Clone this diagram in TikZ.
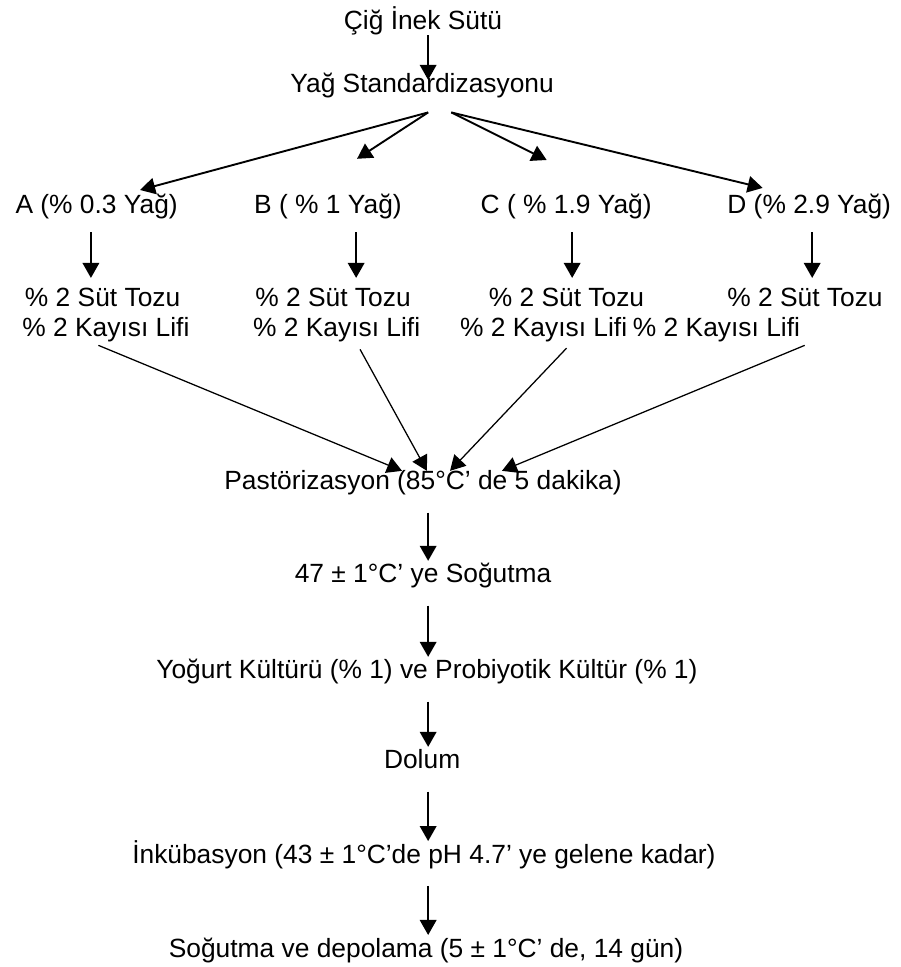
\documentclass[tikz,border=0pt]{standalone}
\usepackage{fontspec}
\setmainfont{Liberation Sans}
\usetikzlibrary{arrows.meta, calc}

\begin{document}
\begin{tikzpicture}[
    >={Triangle[length=0.5cm, width=0.55cm]},
    adim/.style={anchor=base, inner sep=0pt, text height=0.63cm, text depth=0.2cm, font=\fontsize{25}{29}\selectfont},
    akis/.style={->, line width=1.8pt, shorten <=0.55cm, shorten >=0.1cm},
    kol/.style={->, line width=1.8pt, shorten <=0.43cm, shorten >=0.3cm},
    dal/.style={->, line width=1.8pt},
    topla/.style={->, line width=1.2pt, shorten <=0.27cm},
]
\useasboundingbox (0,0) rectangle (30,-32.23);

% Arrow columns
\coordinate (mid) at (14.27,0);
\coordinate (kA) at (3.03,0);
\coordinate (kB) at (11.87,0);
\coordinate (kC) at (19.07,0);
\coordinate (kD) at (27.07,0);

% Raw milk
\node[adim] (cig) at (14.1,-0.97) {Çiğ İnek Sütü};
\node[adim] (yag) at (14.07,-3.07) {Yağ Standardizasyonu};

% Fat levels
\node[adim] (A) at (3.22,-7.1) {A (\% 0.3 Yağ)};
\node[adim] (B) at (10.93,-7.1) {B ( \% 1 Yağ)};
\node[adim] (C) at (18.87,-7.1) {C ( \% 1.9 Yağ)};
\node[adim] (D) at (26.97,-7.1) {D (\% 2.9 Yağ)};

% Additions
\node[adim] (tozA) at (3.42,-10.2) {\% 2 Süt Tozu};
\node[adim] (lifA) at (3.53,-11.2) {\% 2 Kayısı Lifi};
\node[adim] (tozB) at (11.1,-10.2) {\% 2 Süt Tozu};
\node[adim] (lifB) at (11.22,-11.2) {\% 2 Kayısı Lifi};
\node[adim] (tozC) at (18.88,-10.2) {\% 2 Süt Tozu};
\node[adim] (lifC) at (18.12,-11.2) {\% 2 Kayısı Lifi};
\node[adim] (tozD) at (26.83,-10.2) {\% 2 Süt Tozu};
\node[adim] (lifD) at (23.88,-11.2) {\% 2 Kayısı Lifi};

% Processing
\node[adim] (past) at (14.1,-16.33) {Pastörizasyon (85°C’ de 5 dakika)};
\node[adim] (sogut) at (14.1,-19.43) {47 ± 1°C’ ye Soğutma};
\node[adim] (kultur) at (14.23,-22.63) {Yoğurt Kültürü (\% 1) ve Probiyotik Kültür (\% 1)};
\node[adim] (dolum) at (14.07,-25.63) {Dolum};
\node[adim] (inkub) at (14.13,-28.77) {İnkübasyon (43 ± 1°C’de pH 4.7’ ye gelene kadar)};
\node[adim] (depo) at (14.2,-31.9) {Soğutma ve depolama (5 ± 1°C’ de, 14 gün)};

% Top arrows
\draw[akis, shorten <=0pt, shorten >=-0.23cm] (cig.south -| mid) -- (yag.north -| mid);
\draw[dal] ([shift={(0.2,-0.47)}]yag.south) -- ([shift={(1.45,0.13)}]A.north);
\draw[dal] ([shift={(0.2,-0.47)}]yag.south) -- ([shift={(0.97,1.17)}]B.north);
\draw[dal] ([shift={(0.97,-0.47)}]yag.south) -- ([shift={(-0.65,1.13)}]C.north);
\draw[dal] ([shift={(0.97,-0.47)}]yag.south) -- ([shift={(-1.55,0.2)}]D.north);

% Column arrows
\draw[kol] (A.south -| kA) -- (tozA.north -| kA);
\draw[kol] (B.south -| kB) -- (tozB.north -| kB);
\draw[kol] (C.south -| kC) -- (tozC.north -| kC);
\draw[kol] (D.south -| kD) -- (tozD.north -| kD);

% Into pasteurisation
\draw[topla] (lifA.south -| kA) -- ([xshift=-0.7cm]past.north);
\draw[topla] (lifB.south -| kB) -- ([xshift=0.13cm]past.north);
\draw[topla] (lifC.south -| kC) -- ([xshift=0.9cm]past.north);
\draw[topla] (lifD.south -| kD) -- ([xshift=2.63cm]past.north);

% Main line
\draw[akis] (past.south -| mid) -- (sogut.north -| mid);
\draw[akis] (sogut.south -| mid) -- (kultur.north -| mid);
\draw[akis] (kultur.south -| mid) -- (dolum.north -| mid);
\draw[akis] (dolum.south -| mid) -- (inkub.north -| mid);
\draw[akis] (inkub.south -| mid) -- (depo.north -| mid);

\end{tikzpicture}
\end{document}
